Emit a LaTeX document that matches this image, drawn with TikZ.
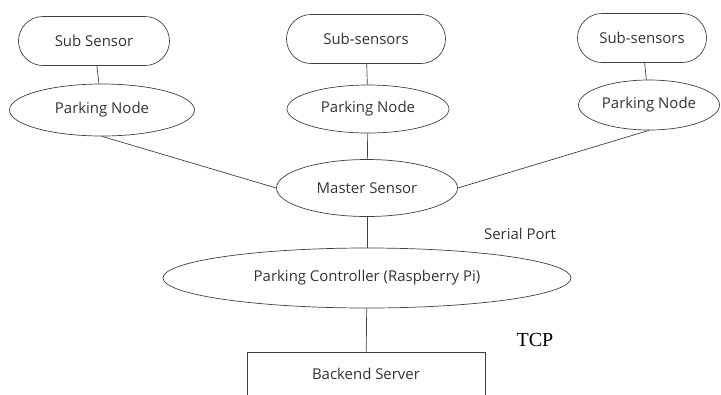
\documentclass[tikz,border=0pt]{standalone}
\usepackage{fontspec}
\setmainfont{Open Sans}
\newfontfamily\tcpfont{Liberation Serif}
\usetikzlibrary{shapes.geometric,shapes.misc,positioning}

\begin{document}
\begin{tikzpicture}[x=1bp,y=-1bp,color=black!75,line width=0.7bp,
  every node/.style={font=\fontsize{15}{17}\selectfont,text=black!80},
  subbox/.style={draw,rounded rectangle,minimum height=49bp,inner sep=0},
  pnode/.style={draw,ellipse,inner sep=0}]
\useasboundingbox (0,0) rectangle (721,394);

\coordinate (c0) at (94,41);
\coordinate (c1) at (366,39);
\coordinate (c2) at (642,38);
\coordinate (p0) at (102,110);
\coordinate (p1) at (368,109);
\coordinate (p2) at (649,105);

\node (s0) at (c0) [subbox,minimum width=151bp] {Sub Sensor};
\node (s1) at (c1) [subbox,minimum width=159bp] {Sub-sensors};
\node (s2) at (c2) [subbox,minimum width=129bp] {Sub-sensors};

\node (n0) at (p0) [pnode,minimum width=185bp,minimum height=52bp] {Parking Node};
\node (n1) at (p1) [pnode,minimum width=162bp,minimum height=48bp] {Parking Node};
\node (n2) at (p2) [pnode,minimum width=141bp,minimum height=50bp] {Parking Node};

\node (master) at (367,188) [pnode,minimum width=181bp,minimum height=57bp] {Master Sensor};
\node (ctrl) at (367,278) [pnode,minimum width=408bp,minimum height=60bp] {Parking Controller (Raspberry Pi)};
\node (srv) at (366,374) [draw,minimum width=238bp,minimum height=44bp,inner sep=0] {Backend Server};

\node (serial) at (520,234) {Serial Port};
\node (tcp) at (535,340) [font=\tcpfont\fontsize{20}{22}\selectfont,text=black] {TCP};

\foreach \x in {0,1,2} {
\draw (s\x) -- (n\x);};
\draw (n0.south) -- (master.west);
\draw (n1) -- (master);
\draw (n2.south) -- (master.east);
\draw (master) -- (ctrl);
\draw (ctrl) -- (srv);
\end{tikzpicture}
\end{document}
